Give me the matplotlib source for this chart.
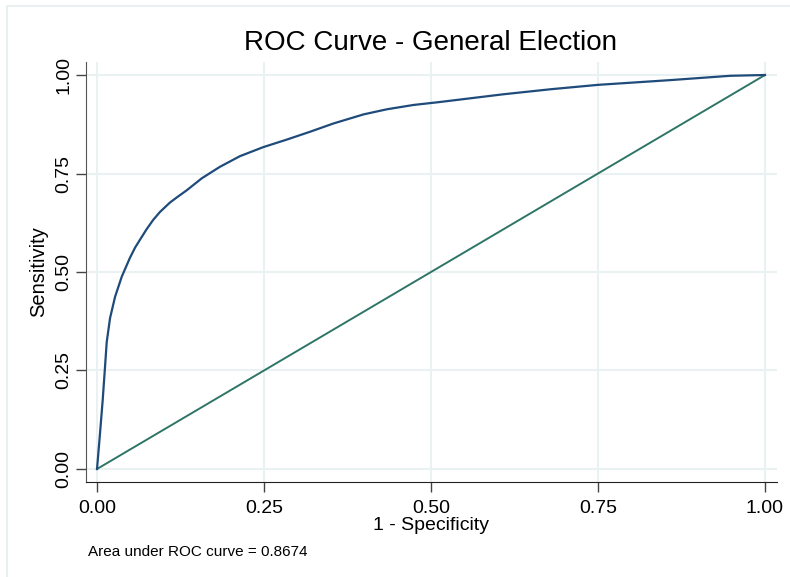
import matplotlib
matplotlib.use("Agg")
import matplotlib.pyplot as plt
from matplotlib.patches import Rectangle

# ROC curve points (1 - specificity, sensitivity)
fpr = [0.0, 0.0045, 0.0085, 0.012, 0.0145, 0.0195, 0.027, 0.037, 0.049, 0.057,
       0.064, 0.074, 0.084, 0.094, 0.109, 0.12, 0.134, 0.157, 0.184, 0.214,
       0.249, 0.284, 0.319, 0.354, 0.399, 0.434, 0.474, 0.511, 0.608, 0.68,
       0.75, 0.858, 0.948, 1.0]
tpr = [0.0, 0.091, 0.175, 0.26, 0.322, 0.383, 0.437, 0.488, 0.535, 0.562,
       0.581, 0.608, 0.632, 0.652, 0.676, 0.69, 0.707, 0.738, 0.767, 0.794,
       0.817, 0.836, 0.856, 0.877, 0.900, 0.913, 0.924, 0.931, 0.951, 0.964,
       0.975, 0.987, 0.998, 1.0]
ref_x = [0.0, 1.0]
ref_y = [0.0, 1.0]
ticks = [0.0, 0.25, 0.5, 0.75, 1.0]
tick_labels = ["0.00", "0.25", "0.50", "0.75", "1.00"]
auc_text = "Area under ROC curve = 0.8674"

plt.rcParams['font.family'] = ['Liberation Sans', 'DejaVu Sans']

fig = plt.figure(figsize=(7.9, 5.77), dpi=100)
W, H = 790, 577
# outer frame
fig.patches.append(Rectangle((7 / W, -0.1), 1.2, 1 - 6 / H + 0.1, transform=fig.transFigure,
                             fill=False, edgecolor='#e6ecef', linewidth=1.2, zorder=0))

ax = fig.add_axes([86 / W, 1 - 482 / H, (777 - 86) / W, (482 - 62) / H])
ax.plot(ref_x, ref_y, color='#2e7566', linewidth=1.4, zorder=3)
ax.plot(fpr, tpr, color='#1f4b7a', linewidth=1.6, zorder=4)

ax.set_xlim(-0.0165, 1.018)
ax.set_ylim(-0.033, 1.033)
ax.set_xticks(ticks)
ax.set_xticklabels(tick_labels)
ax.set_yticks(ticks)
ax.set_yticklabels(tick_labels, rotation=90, va='center')
ax.grid(True, color='#eaf1f3', linewidth=1.5, zorder=0)
ax.set_axisbelow(True)
for s in ['top', 'right']:
    ax.spines[s].set_visible(False)
ax.spines['left'].set_color('#555555')
ax.spines['bottom'].set_color('#222222')
ax.tick_params(axis='both', direction='out', length=7, width=1, color='#444444',
               labelsize=14, pad=3)
ax.tick_params(axis='x', pad=6)
ax.set_xlabel('1 - Specificity', fontsize=14)
ax.set_ylabel('Sensitivity', fontsize=14.5)
ax.xaxis.set_label_coords((431 - 86) / (777 - 86), (482 - 526) / (482 - 62), transform=ax.transAxes)
ax.yaxis.set_label_coords((39 - 86) / (777 - 86), 0.5, transform=ax.transAxes)
ax.xaxis.label.set_va('center')
ax.yaxis.label.set_va('center')

fig.text(431 / W, 1 - 43 / H, 'ROC Curve - General Election', fontsize=20,
         ha='center', va='center')
fig.text(88 / W, 1 - 552 / H, auc_text, fontsize=11, va='center', ha='left')

fig.savefig('out.png', dpi=100)
